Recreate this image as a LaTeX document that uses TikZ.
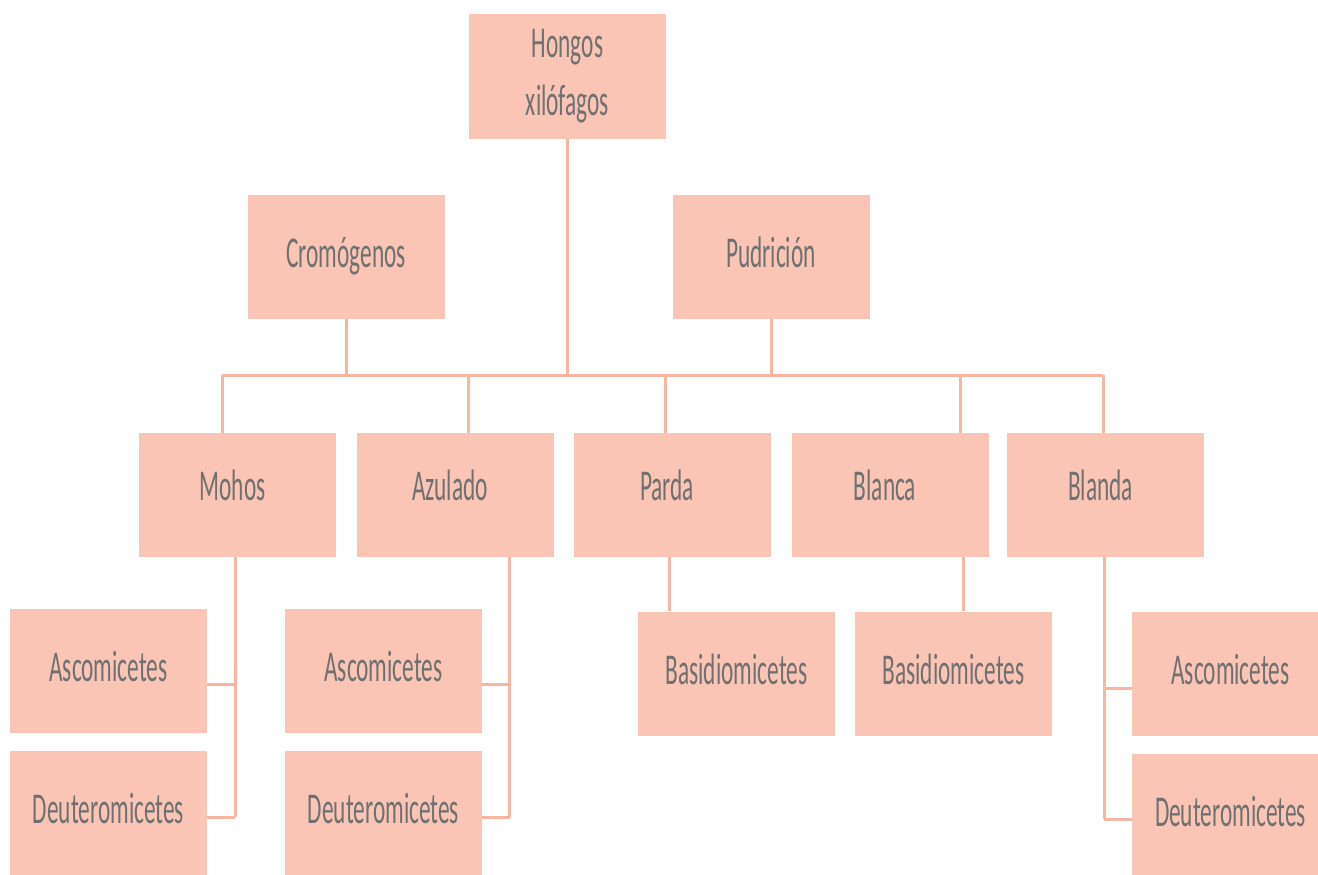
\documentclass[tikz,border=0pt]{standalone}
\usepackage{fontspec}
\newfontfamily\boxfont[FakeStretch=0.53]{Carlito}
\definecolor{boxfill}{RGB}{250,197,181}
\definecolor{linkcol}{RGB}{246,182,162}
\definecolor{labelgray}{RGB}{112,112,112}
\begin{document}
\begin{tikzpicture}[x=1pt,y=-1pt,
  taxonbase/.style={fill=boxfill, draw=none, minimum width=197pt, minimum height=124pt,
    inner sep=0pt, font=\boxfont\fontsize{44}{58}\selectfont, text=labelgray,
    align=center},
  taxon/.style={taxonbase, text height=31pt, text depth=10pt},
  rowthree/.style={taxonbase, text height=31pt, text depth=20pt,
    execute at end node={\hspace*{10pt}}},
  link/.style={draw=linkcol, line width=3pt}]
\clip (0,0) rectangle (1318,875);
\fill[white] (0,0) rectangle (1318,875);

% bus coordinates
\coordinate (busL) at (222,375);
\coordinate (busR) at (1103,375);
\coordinate (dAzul) at (468,375);
\coordinate (dParda) at (665,375);
\coordinate (dBlanca) at (960,375);

% top level
\node[taxonbase] (hongos) at (567.5,76.5) {Hongos\\xilófagos};
% second level
\node[taxon] (crom) at (346,256.5) {Cromógenos};
\node[taxon] (pud) at (771,256.5) {Pudrición};
% third level
\node[rowthree] (mohos) at (237.5,495) {Mohos};
\node[rowthree] (azul) at (455,495) {Azulado};
\node[rowthree] (parda) at (672,495) {Parda};
\node[rowthree] (blanca) at (890,495) {Blanca};
\node[rowthree] (blanda) at (1105.5,495) {Blanda};
% fourth level
\node[taxon] (asc1) at (108.5,671) {Ascomicetes};
\node[taxon] (deu1) at (108.5,813) {Deuteromicetes};
\node[taxon] (asc2) at (383.5,671) {Ascomicetes};
\node[taxon] (deu2) at (383.5,813) {Deuteromicetes};
\node[taxon] (bas1) at (736.5,673.5) {Basidiomicetes};
\node[taxon] (bas2) at (953.5,673.5) {Basidiomicetes};
\node[taxon] (asc3) at (1230.5,673.5) {Ascomicetes};
\node[taxon] (deu3) at (1230.5,815.5) {Deuteromicetes};

% trunk and bus
\draw[link] (hongos.south) -- (hongos.south |- busL);
\draw[link] (crom.south) -- (crom.south |- busL);
\draw[link] (pud.south) -- (pud.south |- busL);
\draw[link] (busL) -- (busR);
\draw[link] (busL) -- (busL |- mohos.north);
\draw[link] (dAzul) -- (dAzul |- azul.north);
\draw[link] (dParda) -- (dParda |- parda.north);
\draw[link] (dBlanca) -- (dBlanca |- blanca.north);
\draw[link] (busR) -- (busR |- blanda.north);

% Mohos branch
\coordinate (m1) at (235,684);
\coordinate (m2) at (235,817);
\draw[link] (m1 |- mohos.south) -- (m2);
\draw[link] (m1 -| asc1.east) -- (m1);
\draw[link] (m2 -| deu1.east) -- (m2);

% Azulado branch
\coordinate (a1) at (509.5,684);
\coordinate (a2) at (509.5,817);
\draw[link] (a1 |- azul.south) -- (a2);
\draw[link] (a1 -| asc2.east) -- (a1);
\draw[link] (a2 -| deu2.east) -- (a2);

% Parda and Blanca branches
\coordinate (p1) at (669,0);
\coordinate (b1) at (963,0);
\draw[link] (p1 |- parda.south) -- (p1 |- bas1.north);
\draw[link] (b1 |- blanca.south) -- (b1 |- bas2.north);

% Blanda branch
\coordinate (s1) at (1104,688);
\coordinate (s2) at (1104,819);
\draw[link] (s1 |- blanda.south) -- (s2);
\draw[link] (s1) -- (s1 -| asc3.west);
\draw[link] (s2) -- (s2 -| deu3.west);
\end{tikzpicture}
\end{document}
